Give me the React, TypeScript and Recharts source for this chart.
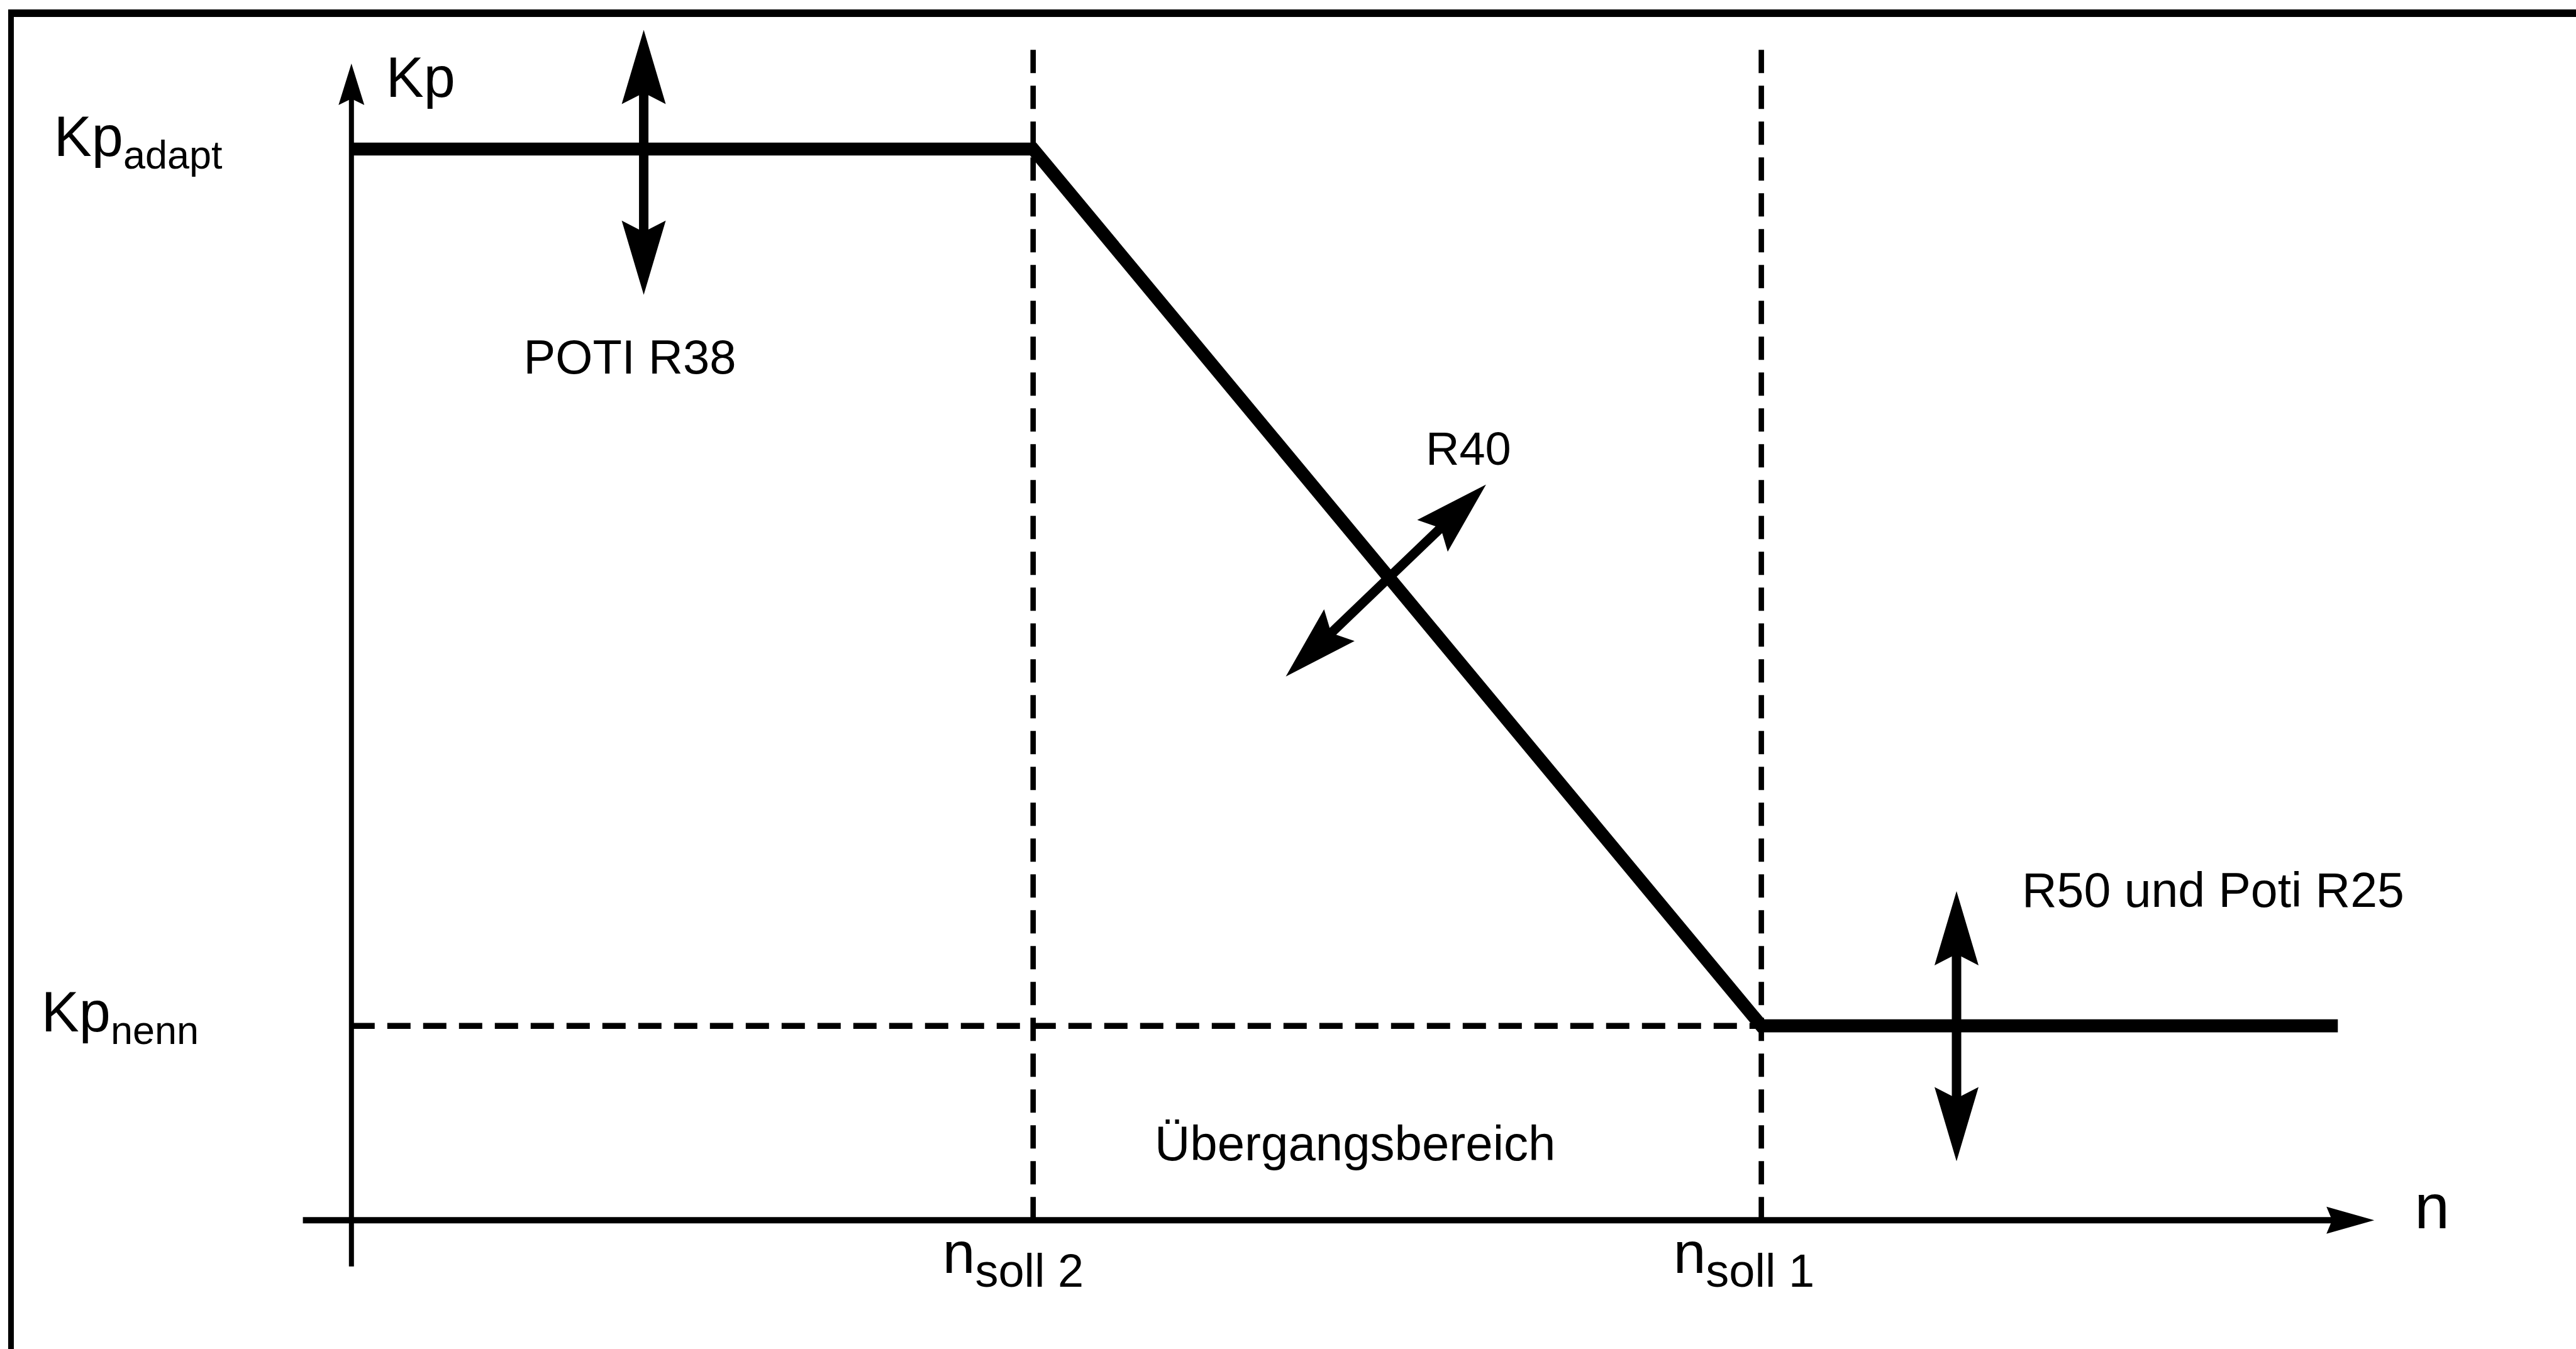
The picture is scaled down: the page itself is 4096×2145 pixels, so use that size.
import React from "react";
import { ComposedChart, Line, ReferenceDot, ReferenceLine, XAxis, YAxis } from "recharts";

// Kp characteristic over speed n (normalised units: axis arrow tips = 100)
const nPoints = [0, 33.7, 69.7, 98.2];
const kpPoints = [92.6, 92.6, 16.8, 16.8];

const N_SOLL_2 = 33.7;
const N_SOLL_1 = 69.7;
const KP_ADAPT = 92.6;
const KP_NENN = 16.8;

// axis extents and guide lines
const nAxis = [-2.4, 100];
const kpAxis = [-4.0, 100];
const guideTop = 101.5;

// adjustment arrows (tail -> head, both ends drawn)
const adjustArrows = [
  { id: "r38", from: { n: 14.45, kp: 80.0 }, to: { n: 14.45, kp: 102.9 } },
  { id: "r40", from: { n: 46.19, kp: 47.0 }, to: { n: 56.09, kp: 63.6 } },
  { id: "r25", from: { n: 79.35, kp: 5.1 }, to: { n: 79.35, kp: 28.45 } },
];

const curve = nPoints.map((n, i) => ({ n, kp: kpPoints[i] }));

const W = 4096;
const H = 2145;
const FONT = "'Liberation Sans', Arial, Helvetica, sans-serif";

type Pt = { x: number; y: number };

function head(tip: Pt, from: Pt, len: number, width: number, notch: number) {
  const dx = from.x - tip.x;
  const dy = from.y - tip.y;
  const d = Math.hypot(dx, dy) || 1;
  const ux = dx / d;
  const uy = dy / d;
  const vx = -uy;
  const vy = ux;
  const bx = tip.x + ux * len;
  const by = tip.y + uy * len;
  const nx = tip.x + ux * (len - notch);
  const ny = tip.y + uy * (len - notch);
  const pts = [
    [tip.x, tip.y],
    [bx + (vx * width) / 2, by + (vy * width) / 2],
    [nx, ny],
    [bx - (vx * width) / 2, by - (vy * width) / 2],
  ];
  return pts.map((p) => p.join(",")).join(" ");
}

function along(a: Pt, b: Pt, dist: number): Pt {
  const d = Math.hypot(b.x - a.x, b.y - a.y) || 1;
  return { x: a.x + ((b.x - a.x) / d) * dist, y: a.y + ((b.y - a.y) / d) * dist };
}

const axisArrow = (len: number, width: number, notch: number, sw: number) => (p: any) => {
  const a = { x: p.x1, y: p.y1 };
  const b = { x: p.x2, y: p.y2 };
  const end = along(b, a, len * 0.5);
  return (
    <g>
      <line x1={a.x} y1={a.y} x2={end.x} y2={end.y} stroke="#000" strokeWidth={sw} />
      <polygon points={head(b, a, len, width, notch)} fill="#000" />
    </g>
  );
};

const doubleArrow = (p: any) => {
  const a = { x: p.x1, y: p.y1 };
  const b = { x: p.x2, y: p.y2 };
  const len = 118;
  const s = along(a, b, len * 0.5);
  const e = along(b, a, len * 0.5);
  return (
    <g>
      <line x1={s.x} y1={s.y} x2={e.x} y2={e.y} stroke="#000" strokeWidth={15} />
      <polygon points={head(a, b, len, 70, 18)} fill="#000" />
      <polygon points={head(b, a, len, 70, 18)} fill="#000" />
    </g>
  );
};

type LabelSpec = {
  main: string;
  sub?: string;
  dx: number;
  dy: number;
  fs: number;
  subFs?: number;
  subDy?: number;
  anchor?: "start" | "middle" | "end";
};

const textShape = (l: LabelSpec) => (p: any) => (
  <text
    x={p.cx + l.dx}
    y={p.cy + l.dy}
    fontSize={l.fs}
    fontFamily={FONT}
    fill="#000"
    textAnchor={l.anchor ?? "start"}
  >
    {l.main}
    {l.sub ? (
      <tspan fontSize={l.subFs} dy={l.subDy}>
        {l.sub}
      </tspan>
    ) : null}
  </text>
);

export default function App() {
  return (
    <div style={{ position: "absolute", left: 0, top: 0, width: W, height: H, overflow: "hidden", background: "#fff" }}>
      <div
        style={{
          position: "absolute",
          left: 13,
          top: 15,
          width: W - 13,
          height: H - 15,
          boxSizing: "border-box",
          borderTop: "12px solid #000",
          borderLeft: "9px solid #000",
        }}
      />
      <div style={{ position: "absolute", left: 0, top: 0 }}>
        <ComposedChart
          width={W}
          height={H}
          data={curve}
          margin={{ top: 100.9, right: 320.8, bottom: 204.8, left: 558.8 }}
        >
          <XAxis type="number" dataKey="n" domain={[0, 100]} allowDataOverflow hide />
          <YAxis type="number" domain={[0, 100]} allowDataOverflow hide />

          {/* guide lines */}
          <ReferenceLine
            ifOverflow="visible"
            segment={[{ x: N_SOLL_2, y: 0 }, { x: N_SOLL_2, y: guideTop }]}
            stroke="#000"
            strokeWidth={8.6}
            strokeDasharray="37 20"
          />
          <ReferenceLine
            ifOverflow="visible"
            segment={[{ x: N_SOLL_1, y: 0 }, { x: N_SOLL_1, y: guideTop }]}
            stroke="#000"
            strokeWidth={8.6}
            strokeDasharray="37 20"
          />
          <ReferenceLine
            ifOverflow="visible"
            segment={[{ x: 0, y: KP_NENN }, { x: N_SOLL_1, y: KP_NENN }]}
            stroke="#000"
            strokeWidth={9.5}
            strokeDasharray="37 20"
          />

          {/* axes */}
          <ReferenceLine
            ifOverflow="visible"
            segment={[{ x: nAxis[0], y: 0 }, { x: nAxis[1], y: 0 }]}
            shape={axisArrow(76, 43, 9, 10)}
          />
          <ReferenceLine
            ifOverflow="visible"
            segment={[{ x: 0, y: kpAxis[0] }, { x: 0, y: kpAxis[1] }]}
            shape={axisArrow(66, 41, 10, 8)}
          />

          <Line
            type="linear"
            dataKey="kp"
            stroke="#000"
            strokeWidth={20.7}
            dot={false}
            activeDot={false}
            isAnimationActive={false}
          />

          {adjustArrows.map((a) => (
            <ReferenceLine
              key={a.id}
              ifOverflow="visible"
              segment={[{ x: a.from.n, y: a.from.kp }, { x: a.to.n, y: a.to.kp }]}
              shape={doubleArrow}
            />
          ))}

          {/* labels */}
          <ReferenceDot x={0} y={100} r={1} ifOverflow="visible" shape={textShape({ main: "Kp", dx: 55, dy: 53, fs: 90 })} />
          <ReferenceDot
            x={0}
            y={KP_ADAPT}
            r={1}
            ifOverflow="visible"
            shape={textShape({ main: "Kp", sub: "adapt", dx: -473, dy: 11, fs: 90, subFs: 63, subDy: 20 })}
          />
          <ReferenceDot
            x={0}
            y={KP_NENN}
            r={1}
            ifOverflow="visible"
            shape={textShape({ main: "Kp", sub: "nenn", dx: -493, dy: 9, fs: 90, subFs: 63, subDy: 20 })}
          />
          <ReferenceDot
            x={N_SOLL_2}
            y={0}
            r={1}
            ifOverflow="visible"
            shape={textShape({ main: "n", sub: "soll 2", dx: -144, dy: 84, fs: 93, subFs: 74, subDy: 22 })}
          />
          <ReferenceDot
            x={N_SOLL_1}
            y={0}
            r={1}
            ifOverflow="visible"
            shape={textShape({ main: "n", sub: "soll 1", dx: -140, dy: 84, fs: 93, subFs: 74, subDy: 22 })}
          />
          <ReferenceDot
            x={N_SOLL_2}
            y={0}
            r={1}
            ifOverflow="visible"
            shape={textShape({ main: "Übergangsbereich", dx: 512, dy: -95, fs: 78, anchor: "middle" })}
          />
          <ReferenceDot x={100} y={0} r={1} ifOverflow="visible" shape={textShape({ main: "n", dx: 64, dy: 13, fs: 100 })} />
          <ReferenceDot
            x={adjustArrows[0].from.n}
            y={KP_ADAPT}
            r={1}
            ifOverflow="visible"
            shape={textShape({ main: "POTI R38", dx: -22, dy: 357, fs: 76, anchor: "middle" })}
          />
          <ReferenceDot
            x={adjustArrows[1].to.n}
            y={adjustArrows[1].to.kp}
            r={1}
            ifOverflow="visible"
            shape={textShape({ main: "R40", dx: -28, dy: -31, fs: 74, anchor: "middle" })}
          />
          <ReferenceDot
            x={adjustArrows[2].to.n}
            y={adjustArrows[2].to.kp}
            r={1}
            ifOverflow="visible"
            shape={textShape({ main: "R50 und Poti R25", dx: 104, dy: 25, fs: 77 })}
          />
        </ComposedChart>
      </div>
    </div>
  );
}
